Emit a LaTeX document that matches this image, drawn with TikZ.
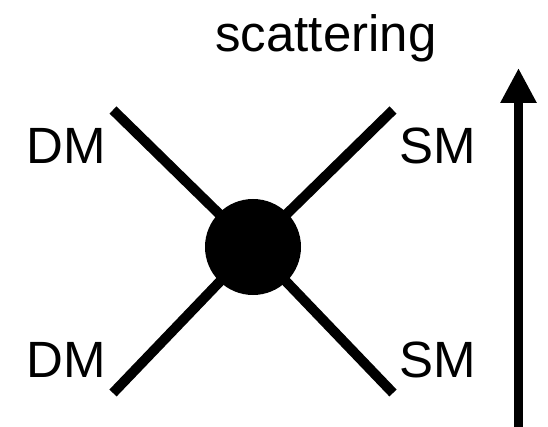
\documentclass[tikz,border=0pt]{standalone}
\usepackage{fontspec}
\setmainfont{Liberation Sans}
\usetikzlibrary{arrows.meta}
\tikzset{
  lbl/.style={anchor=base, inner sep=0pt, font=\fontsize{51}{57}\selectfont},
  leg/.style={line width=10pt},
  blob/.style={circle, fill=black, minimum size=96pt, inner sep=0pt},
}
\begin{document}
\begin{tikzpicture}[x=1pt, y=-1pt]
\useasboundingbox (0,0) rectangle (548,427);
\node[blob] (v) at (253,247) {};
\coordinate (tl) at (113,110);
\coordinate (tr) at (393,110);
\coordinate (bl) at (113,393);
\coordinate (br) at (393,393);
\draw[leg] (tl) -- (v.center);
\draw[leg] (tr) -- (v.center);
\draw[leg] (bl) -- (v.center);
\draw[leg] (br) -- (v.center);
\node[lbl] (t) at (326,52) {scattering};
\node[lbl] (d1) at (66,164) {DM};
\node[lbl] (s1) at (438,164) {SM};
\node[lbl] (d2) at (66,377) {DM};
\node[lbl] (s2) at (438,377) {SM};
\coordinate (ab) at (518.5,427);
\coordinate (at) at (518.5,68);
\draw[line width=9pt, -{Triangle[width=34pt,length=35pt]}] (ab) -- (at);
\end{tikzpicture}
\end{document}
